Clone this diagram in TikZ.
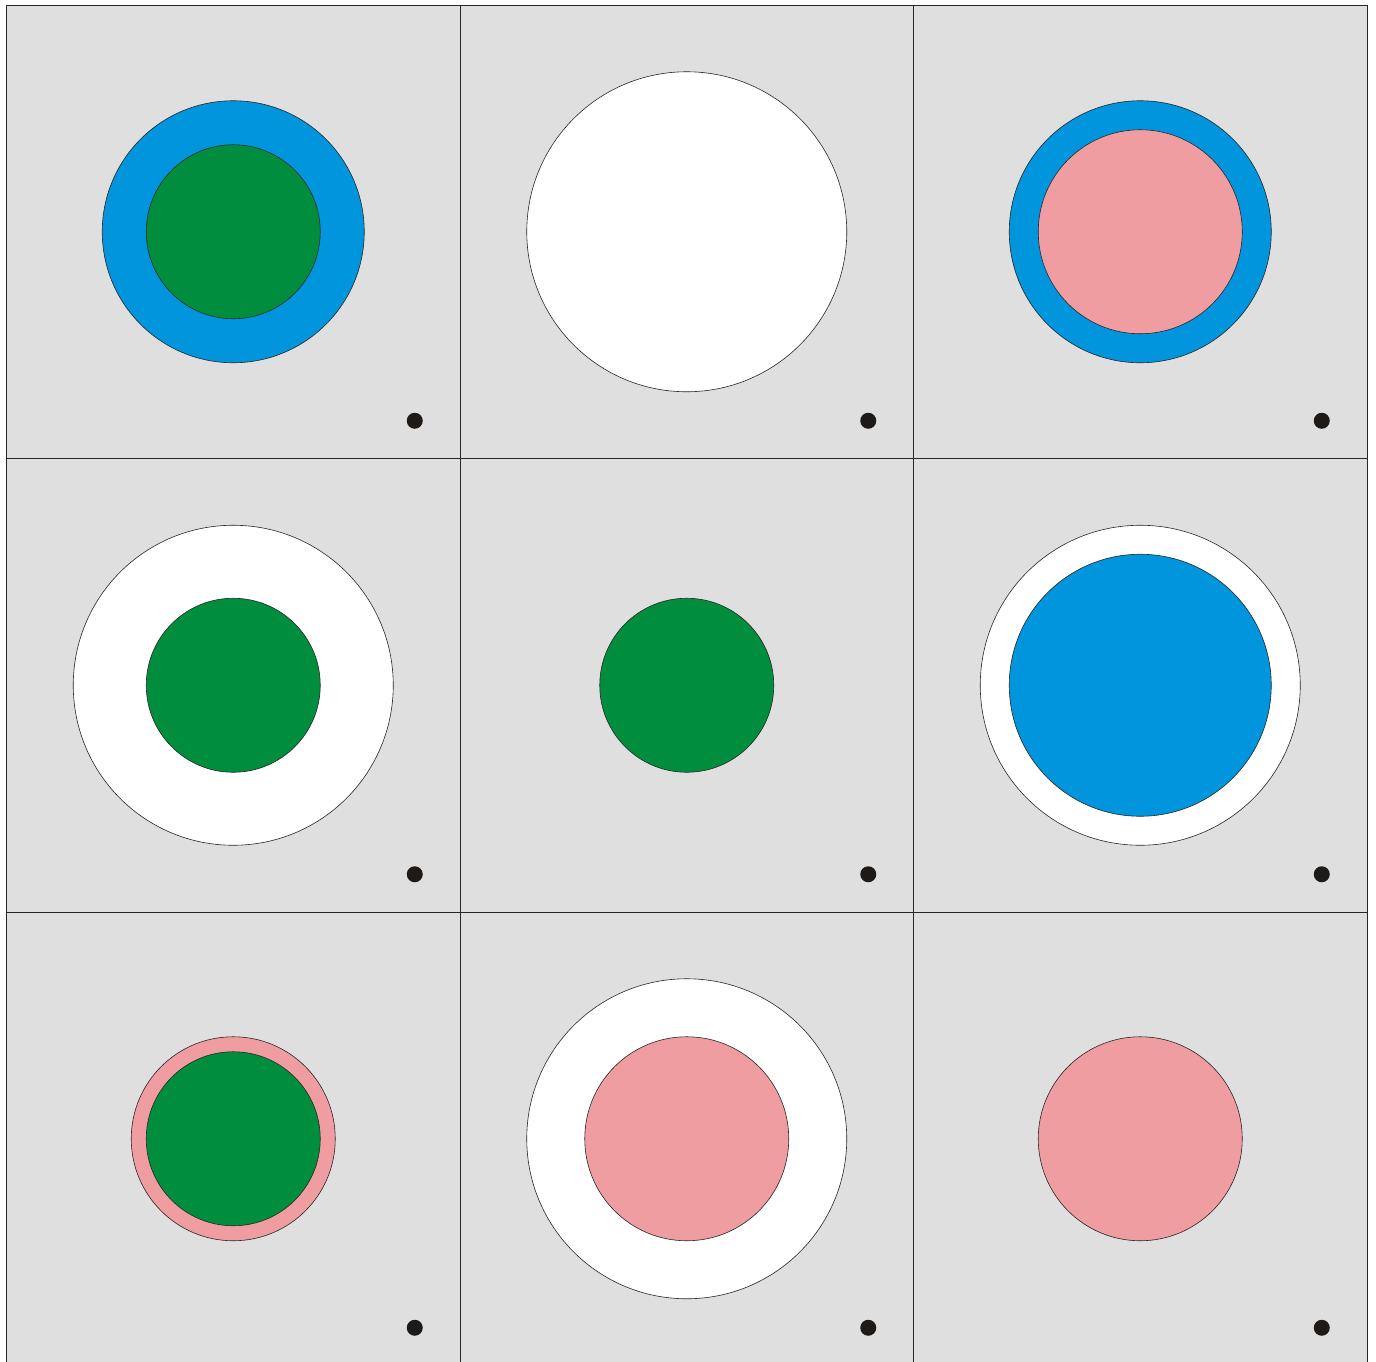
\documentclass[tikz,border=0pt]{standalone}
\definecolor{cellgray}{HTML}{DFDFDF}
\definecolor{ringblue}{HTML}{0095DD}
\definecolor{discgreen}{HTML}{008E3E}
\definecolor{discpink}{HTML}{F09DA2}
\definecolor{dotblack}{HTML}{1E1A18}
\begin{document}
\begin{tikzpicture}[x=1pt,y=-1pt,
  cell/.style={fill=cellgray,draw=black!85,line width=1pt},
  disc/.style={draw=black!85,line width=0.6pt},
  marker/.style={fill=dotblack}]
\useasboundingbox (0,0) rectangle (1376,1361);
% cells
\foreach \i in {0,1,2}{
  \foreach \j in {0,1,2}{
    \path[cell] ({6.5+453.5*\i},{5+453.5*\j}) rectangle ({6.5+453.5*(\i+1)},{5+453.5*(\j+1)});
    \fill[marker] ({233.25+453.5*\i+181.5},{231.75+453.5*\j+189}) circle (8);
  }
}
% row 1
\path[disc,fill=ringblue] (233.25,231.75) circle (131);
\path[disc,fill=discgreen] (233.25,231.75) circle (87);
\path[disc,fill=white] (686.75,231.75) circle (160);
\path[disc,fill=ringblue] (1140.25,231.75) circle (131);
\path[disc,fill=discpink] (1140.25,231.75) circle (102);
% row 2
\path[disc,fill=white] (233.25,685.25) circle (160);
\path[disc,fill=discgreen] (233.25,685.25) circle (87);
\path[disc,fill=discgreen] (686.75,685.25) circle (87);
\path[disc,fill=white] (1140.25,685.25) circle (160);
\path[disc,fill=ringblue] (1140.25,685.25) circle (131);
% row 3
\path[disc,fill=discpink] (233.25,1138.75) circle (102);
\path[disc,fill=discgreen] (233.25,1138.75) circle (87);
\path[disc,fill=white] (686.75,1138.75) circle (160);
\path[disc,fill=discpink] (686.75,1138.75) circle (102);
\path[disc,fill=discpink] (1140.25,1138.75) circle (102);
\end{tikzpicture}
\end{document}
